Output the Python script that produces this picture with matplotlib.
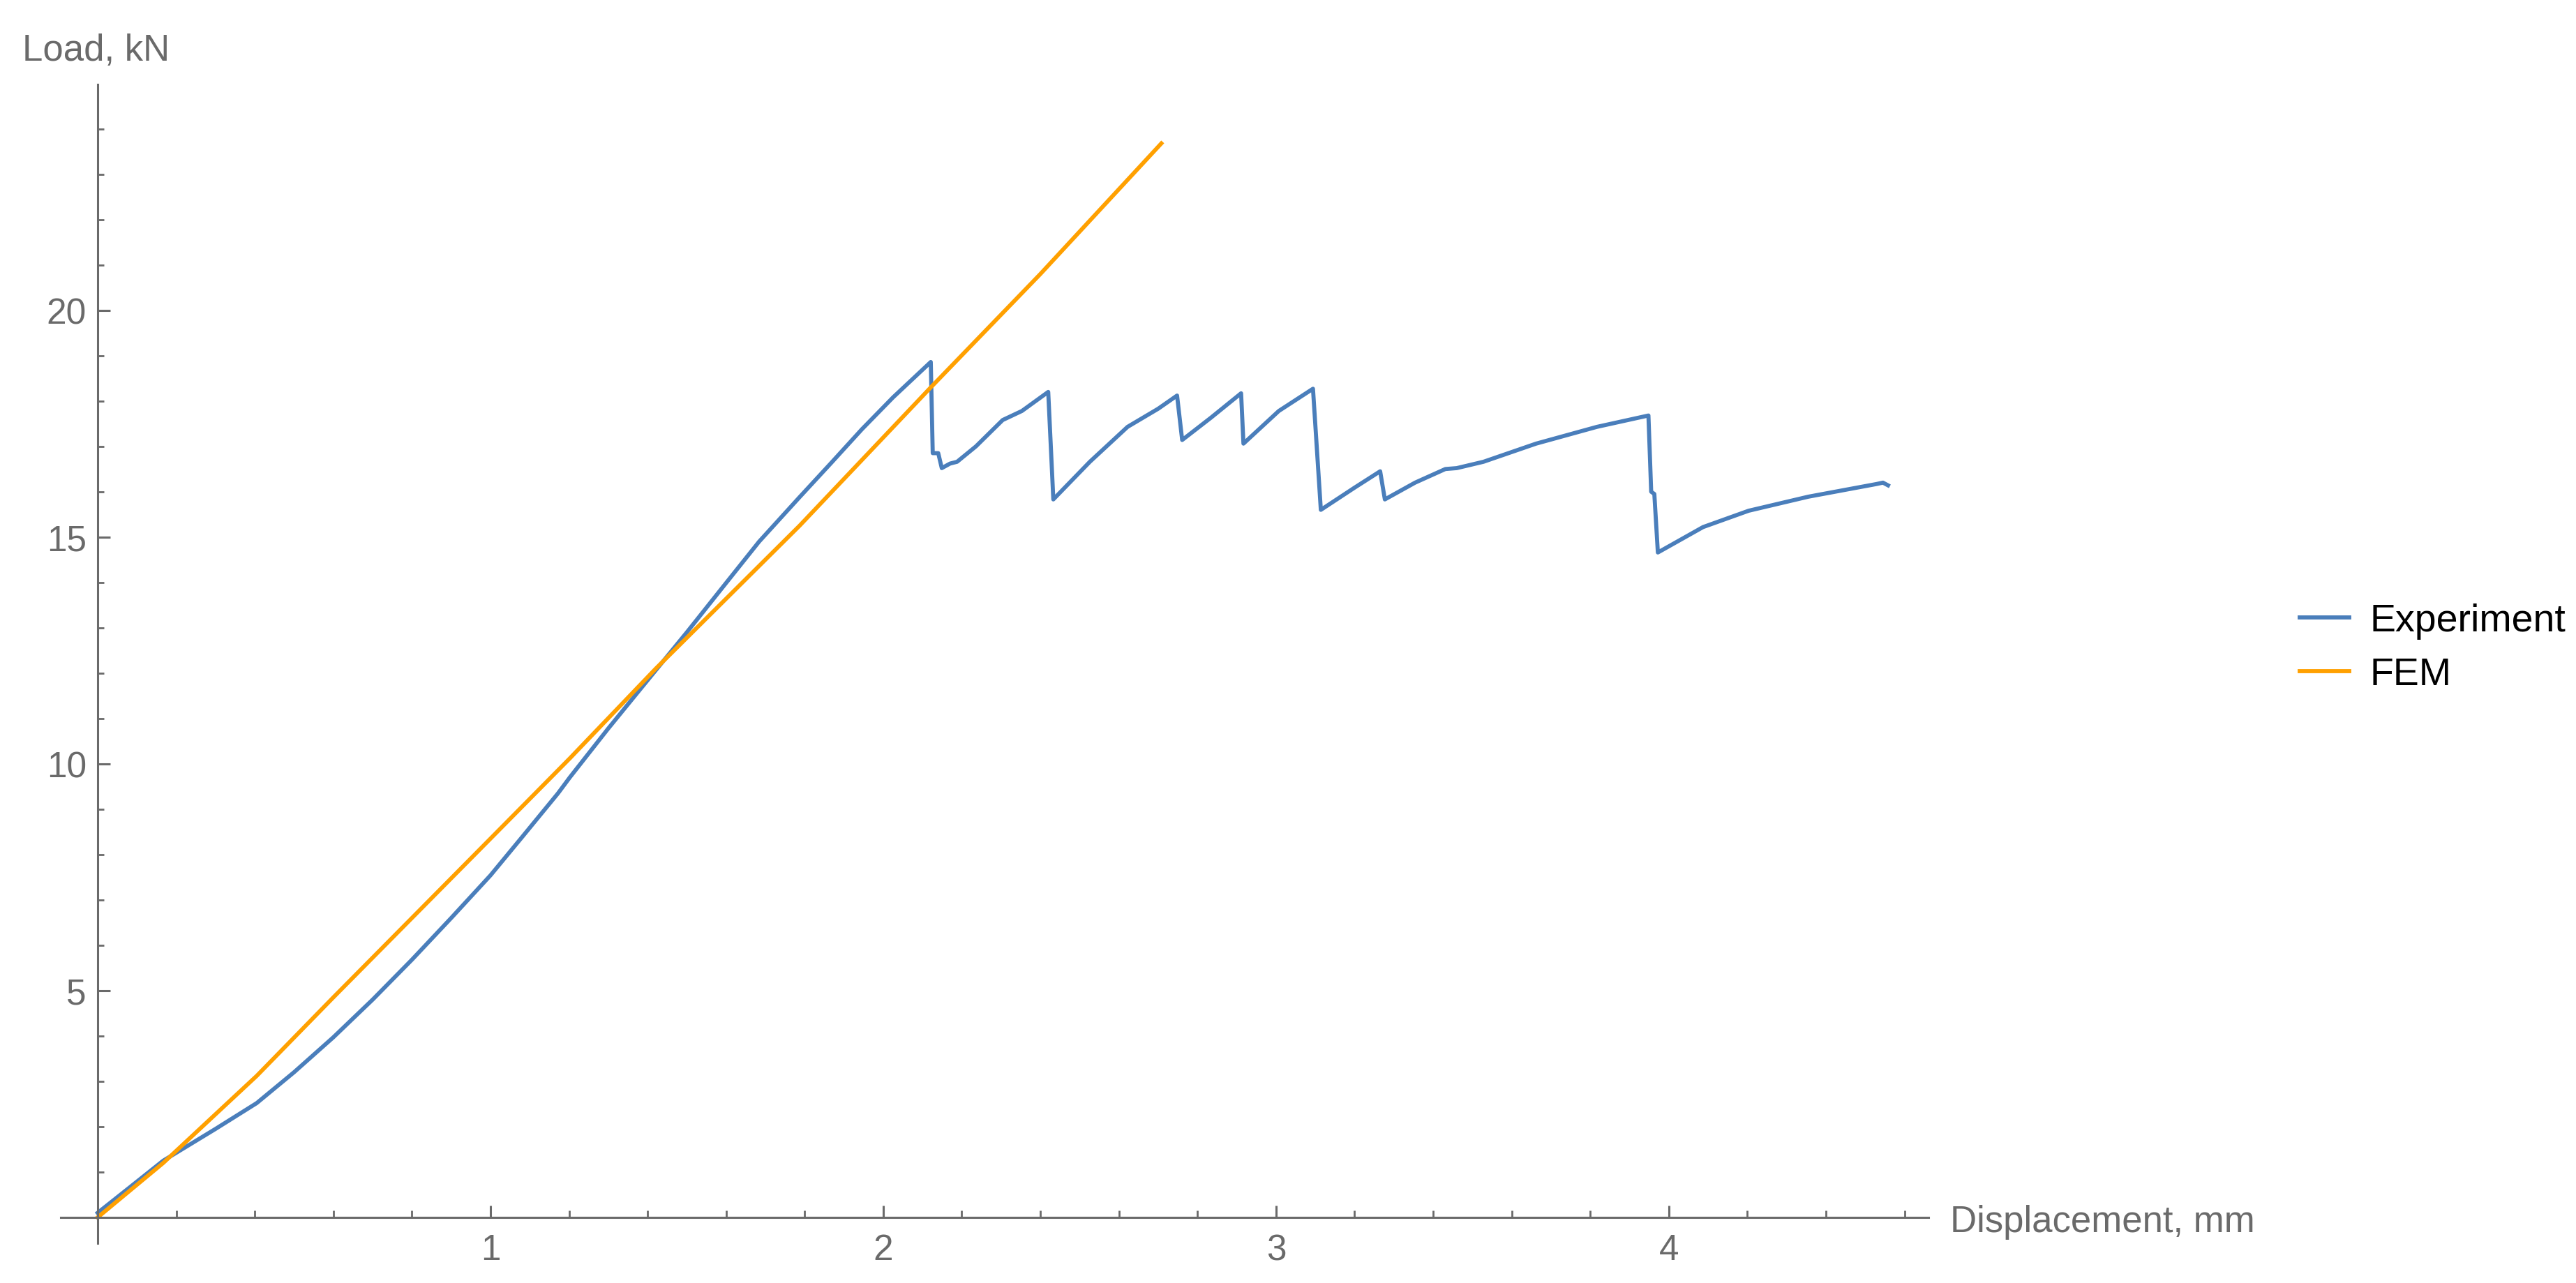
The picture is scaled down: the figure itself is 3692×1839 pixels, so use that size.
import matplotlib.pyplot as plt
from matplotlib.ticker import FixedLocator
import numpy as np

plt.rcParams['font.family'] = ['Liberation Sans', 'DejaVu Sans']

# experiment curve (displacement mm, load kN)
expX = [0.0, 0.08, 0.167, 0.30, 0.405, 0.50, 0.60, 0.70, 0.80, 0.90, 1.00, 1.082, 1.172, 1.202, 1.30,
        1.38, 1.50, 1.59, 1.684, 1.787, 1.867, 1.946, 2.025, 2.121, 2.126, 2.140, 2.149, 2.170, 2.188,
        2.236, 2.304, 2.353, 2.420, 2.433, 2.526, 2.622, 2.700, 2.748, 2.761, 2.834, 2.911, 2.917,
        3.007, 3.094, 3.114, 3.200, 3.265, 3.277, 3.354, 3.431, 3.460, 3.528, 3.662, 3.817, 3.948,
        3.955, 3.963, 3.972, 4.087, 4.203, 4.355, 4.529, 4.545, 4.558]
expY = [0.1, 0.65, 1.25, 1.95, 2.52, 3.2, 3.97, 4.8, 5.68, 6.6, 7.54, 8.4, 9.35, 9.7, 10.78,
        11.63, 12.9, 13.88, 14.9, 15.88, 16.63, 17.38, 18.08, 18.86, 16.85, 16.85, 16.52, 16.62, 16.66,
        17.0, 17.58, 17.78, 18.2, 15.83, 16.66, 17.43, 17.83, 18.12, 17.14, 17.63, 18.17, 17.06,
        17.78, 18.27, 15.6, 16.09, 16.45, 15.83, 16.2, 16.5, 16.52, 16.66, 17.06, 17.43, 17.68,
        16.0, 15.95, 14.66, 15.22, 15.58, 15.89, 16.17, 16.2, 16.14]

# FEM curve
femX = [0.0, 0.167, 0.405, 0.60, 0.80, 1.00, 1.202, 1.421, 1.787, 2.121, 2.40, 2.708]
femY = [0.0, 1.2, 3.12, 4.85, 6.6, 8.35, 10.12, 12.1, 15.25, 18.3, 20.8, 23.68]

xticks = [1, 2, 3, 4]
yticks = [5, 10, 15, 20]

blue = '#4a7ebb'
orange = '#ffa000'
grey = '#6a6a6a'

fig = plt.figure(figsize=(18.46, 9.2), dpi=200)
ax1 = fig.add_axes([87/3692, 1 - 1783/1840, (2764 - 87)/3692, (1783 - 122)/1840])

ax1.plot(expX, expY, color=blue, lw=2.1, label='Experiment')
ax1.plot(femX, femY, color=orange, lw=2.1, label='FEM')

ax1.set_xlim(-0.094, 4.661)
ax1.set_ylim(-0.57, 24.98)

for s in ['top', 'right']:
	ax1.spines[s].set_visible(False)
ax1.spines['left'].set_position(('data', 0))
ax1.spines['bottom'].set_position(('data', 0))
for s in ['left', 'bottom']:
	ax1.spines[s].set_color(grey)
	ax1.spines[s].set_linewidth(1.1)

ax1.xaxis.set_major_locator(FixedLocator(xticks))
ax1.yaxis.set_major_locator(FixedLocator(yticks))
ax1.xaxis.set_minor_locator(FixedLocator(np.arange(0.2, 4.61, 0.2)))
ax1.yaxis.set_minor_locator(FixedLocator(np.arange(1, 25, 1)))

fontSize = 18.5
ax1.tick_params(axis='x', which='major', direction='in', length=6.1, width=1.1, color=grey,
                labelcolor=grey, labelsize=fontSize, pad=8)
ax1.tick_params(axis='x', which='minor', direction='in', length=3.6, width=1.0, color=grey)
ax1.tick_params(axis='y', which='major', direction='in', length=6.5, width=1.1, color=grey,
                labelcolor=grey, labelsize=fontSize, pad=5.8)
ax1.tick_params(axis='y', which='minor', direction='in', length=3.2, width=1.0, color=grey)

fig.text(32/3692, 1 - 87/1840, 'Load, kN', color=grey, fontsize=19, ha='left', va='baseline')
fig.text(2795/3692, 1 - 1766/1840, 'Displacement, mm', color=grey, fontsize=19, ha='left', va='baseline')

handles, labels = ax1.get_legend_handles_labels()
leg = fig.legend(handles, labels, loc='center left', bbox_to_anchor=(3296/3692, 1 - 929.5/1840),
                 frameon=False, fontsize=20, handlelength=1.28, handletextpad=0.53,
                 labelspacing=0.45, borderpad=0, borderaxespad=0)

plt.savefig('out.png', dpi=200)
